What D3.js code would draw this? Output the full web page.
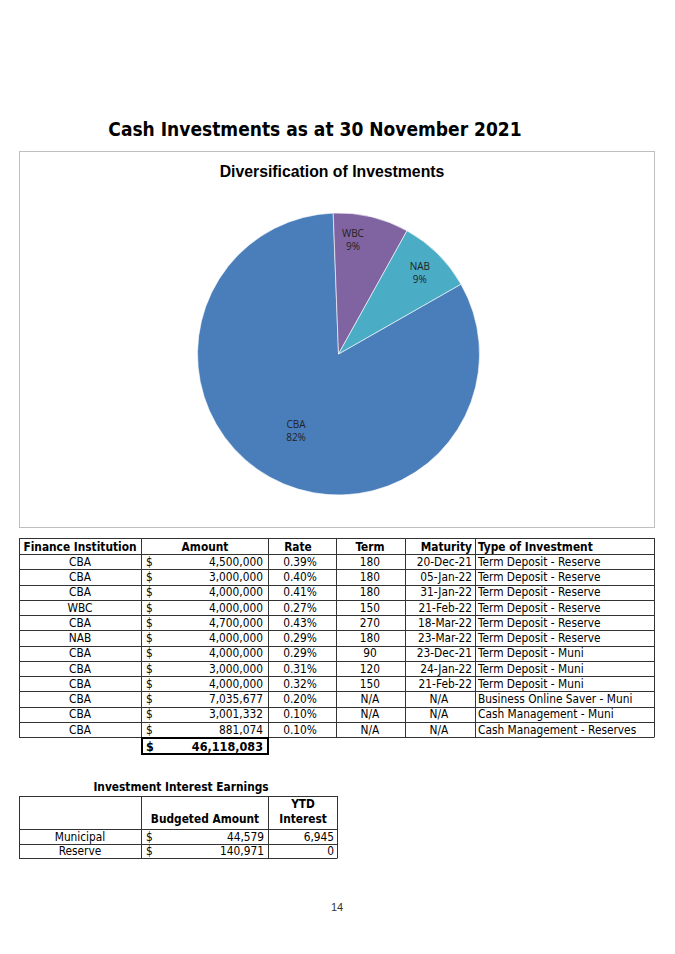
<!DOCTYPE html>
<html>
<head>
<meta charset="utf-8">
<script src="https://cdn.jsdelivr.net/npm/d3@7"></script>
<style>
  body { margin: 0; background: #fff; }
  svg text { font-family: "DejaVu Sans Condensed", "DejaVu Sans", sans-serif; }
</style>
</head>
<body>
<script>
// table data
var institutions = ["CBA","CBA","CBA","WBC","CBA","NAB","CBA","CBA","CBA","CBA","CBA","CBA"];
var amounts = [4500000,3000000,4000000,4000000,4700000,4000000,4000000,3000000,4000000,7035677,3001332,881074];
var rates = ["0.39%","0.40%","0.41%","0.27%","0.43%","0.29%","0.29%","0.31%","0.32%","0.20%","0.10%","0.10%"];
var terms = ["180","180","180","150","270","180","90","120","150","N/A","N/A","N/A"];
var maturities = ["20-Dec-21","05-Jan-22","31-Jan-22","21-Feb-22","18-Mar-22","23-Mar-22","23-Dec-21","24-Jan-22","21-Feb-22","N/A","N/A","N/A"];
var types = ["Term Deposit - Reserve","Term Deposit - Reserve","Term Deposit - Reserve","Term Deposit - Reserve",
             "Term Deposit - Reserve","Term Deposit - Reserve","Term Deposit - Muni","Term Deposit - Muni",
             "Term Deposit - Muni","Business Online Saver - Muni","Cash Management - Muni","Cash Management - Reserves"];
var headers = ["Finance Institution","Amount","Rate","Term","Maturity","Type of Investment"];

// pie data
var pieNames = ["CBA","WBC","NAB"];
var piePercents = ["82%","9%","9%"];
var pieColors = ["#4a7ebb","#8064a2","#4bacc6"];

// interest earnings table
var earnNames = ["Municipal","Reserve"];
var earnBudget = [44579, 140971];
var earnYtd = [6945, 0];

var fmt = d3.format(",");
var W = 675, H = 954;

var svg = d3.select("body").append("svg")
  .attr("width", W).attr("height", H);
svg.append("rect").attr("width", W).attr("height", H).attr("fill", "#fff");

// page title
svg.append("text")
  .attr("x", 315).attr("y", 136)
  .attr("text-anchor", "middle")
  .style("font-size", "19px").style("font-weight", "bold")
  .text("Cash Investments as at 30 November 2021");

// chart box
svg.append("rect")
  .attr("x", 19.5).attr("y", 151.5).attr("width", 635).attr("height", 376)
  .attr("fill", "#fff").attr("stroke", "#bfbfbf");

svg.append("text")
  .attr("x", 332).attr("y", 177)
  .attr("text-anchor", "middle")
  .style("font-family", "'Liberation Sans', sans-serif")
  .style("font-size", "15.8px").style("font-weight", "bold")
  .text("Diversification of Investments");

// sum amounts per institution for the slices
var totals = pieNames.map(function(n) {
  return d3.sum(amounts.filter(function(a, i) { return institutions[i] === n; }));
});

var start = 60.3 * Math.PI / 180;
var pie = d3.pie().sort(null).startAngle(start).endAngle(start + 2 * Math.PI);
var R = 141;
var arc = d3.arc().innerRadius(0).outerRadius(R);
var g = svg.append("g").attr("transform", "translate(338.5,354)");
var arcs = pie(totals);

g.selectAll("path")
  .data(arcs)
  .enter()
  .append("path")
  .attr("d", arc)
  .attr("fill", function(d, i) { return pieColors[i]; })
  .attr("stroke", "#fff")
  .attr("stroke-width", 0.6);

// label placement (fraction of radius, angle shift)
var labelPos = [[0.62, 0], [0.82, -0.11], [0.82, 0]];
var lab = g.selectAll("g.lab")
  .data(arcs)
  .enter()
  .append("g")
  .attr("class", "lab")
  .attr("transform", function(d, i) {
    var a = (d.startAngle + d.endAngle) / 2 + labelPos[i][1];
    var r = R * labelPos[i][0];
    return "translate(" + (r * Math.sin(a)) + "," + (-r * Math.cos(a)) + ")";
  });
lab.append("text")
  .attr("text-anchor", "middle").attr("y", -2)
  .style("font-family", "'Open Sans', sans-serif").style("font-size", "10px").attr("fill", "#222")
  .text(function(d, i) { return pieNames[i]; });
lab.append("text")
  .attr("text-anchor", "middle").attr("y", 11)
  .style("font-family", "'Open Sans', sans-serif").style("font-size", "10px").attr("fill", "#222")
  .text(function(d, i) { return piePercents[i]; });

// main table
var cols = [19, 141, 268, 336, 405, 475, 654];
var top0 = 538, headBottom = 554;
var rowY = d3.scaleLinear().domain([0, institutions.length]).range([headBottom, 737]);
var lineCol = "#333";
var tbl = svg.append("g").style("font-size", "11.8px");

// horizontal lines
var hl = [top0].concat(d3.range(institutions.length + 1).map(function(i) { return rowY(i); }));
tbl.selectAll("line.h")
  .data(hl)
  .enter()
  .append("line")
  .attr("x1", cols[0]).attr("x2", cols[6])
  .attr("y1", function(d) { return Math.round(d) + 0.5; })
  .attr("y2", function(d) { return Math.round(d) + 0.5; })
  .attr("stroke", lineCol);
tbl.selectAll("line.v")
  .data(cols)
  .enter()
  .append("line")
  .attr("x1", function(d) { return d + 0.5; }).attr("x2", function(d) { return d + 0.5; })
  .attr("y1", top0).attr("y2", Math.round(rowY(institutions.length)) + 0.5)
  .attr("stroke", lineCol);

// header
var headX = [80, 205, 298, 370, 472, 478];
var headAnchor = ["middle","middle","middle","middle","end","start"];
tbl.selectAll("text.head")
  .data(headers)
  .enter()
  .append("text")
  .attr("x", function(d, i) { return headX[i]; })
  .attr("y", 550.5)
  .attr("text-anchor", function(d, i) { return headAnchor[i]; })
  .style("font-weight", "bold")
  .text(function(d) { return d; });

// rows
var rowsG = tbl.selectAll("g.row")
  .data(institutions)
  .enter()
  .append("g")
  .attr("transform", function(d, i) { return "translate(0," + (rowY(i) + 11.8) + ")"; });
rowsG.append("text").attr("x", 80).attr("text-anchor", "middle").text(function(d) { return d; });
rowsG.append("text").attr("x", 146).text("$");
rowsG.append("text").attr("x", 263).attr("text-anchor", "end").text(function(d, i) { return fmt(amounts[i]); });
rowsG.append("text").attr("x", 300).attr("text-anchor", "middle").text(function(d, i) { return rates[i]; });
rowsG.append("text").attr("x", 370).attr("text-anchor", "middle").text(function(d, i) { return terms[i]; });
rowsG.append("text")
  .attr("x", function(d, i) { return maturities[i] === "N/A" ? 439 : 472; })
  .attr("text-anchor", function(d, i) { return maturities[i] === "N/A" ? "middle" : "end"; })
  .text(function(d, i) { return maturities[i]; });
rowsG.append("text").attr("x", 478).text(function(d, i) { return types[i]; });

// total box
var yb = Math.round(rowY(institutions.length));
tbl.append("rect")
  .attr("x", 142).attr("y", yb + 1).attr("width", 126).attr("height", 16)
  .attr("fill", "none").attr("stroke", "#000").attr("stroke-width", 2);
tbl.append("text").attr("x", 146).attr("y", yb + 13.5).style("font-weight", "bold").style("font-size", "12.5px").text("$");
tbl.append("text").attr("x", 263).attr("y", yb + 13.5).attr("text-anchor", "end")
  .style("font-weight", "bold").style("font-size", "12.5px")
  .text(fmt(d3.sum(amounts)));

// interest earnings table
var e = svg.append("g").style("font-size", "11.8px");
e.append("text").attr("x", 181).attr("y", 791).attr("text-anchor", "middle")
  .style("font-weight", "bold").text("Investment Interest Earnings");
var ecols = [19, 141, 268, 337];
var eTop = 796, eHead = 829;
var eRow = d3.scaleLinear().domain([0, earnNames.length]).range([eHead, 858]);
var ehl = [eTop].concat(d3.range(earnNames.length + 1).map(function(i) { return eRow(i); }));
e.selectAll("line.h")
  .data(ehl)
  .enter()
  .append("line")
  .attr("x1", ecols[0]).attr("x2", ecols[3])
  .attr("y1", function(d) { return Math.round(d) + 0.5; })
  .attr("y2", function(d) { return Math.round(d) + 0.5; })
  .attr("stroke", lineCol);
e.selectAll("line.v")
  .data(ecols)
  .enter()
  .append("line")
  .attr("x1", function(d) { return d + 0.5; }).attr("x2", function(d) { return d + 0.5; })
  .attr("y1", eTop).attr("y2", 858.5)
  .attr("stroke", lineCol);
e.append("text").attr("x", 205).attr("y", 823).attr("text-anchor", "middle")
  .style("font-weight", "bold").text("Budgeted Amount");
e.append("text").attr("x", 303).attr("y", 808).attr("text-anchor", "middle")
  .style("font-weight", "bold").text("YTD");
e.append("text").attr("x", 303).attr("y", 823).attr("text-anchor", "middle")
  .style("font-weight", "bold").text("Interest");
var er = e.selectAll("g.row")
  .data(earnNames)
  .enter()
  .append("g")
  .attr("transform", function(d, i) { return "translate(0," + (eRow(i) + 11.5) + ")"; });
er.append("text").attr("x", 80).attr("text-anchor", "middle").text(function(d) { return d; });
er.append("text").attr("x", 146).text("$");
er.append("text").attr("x", 264).attr("text-anchor", "end").text(function(d, i) { return fmt(earnBudget[i]); });
er.append("text").attr("x", 334).attr("text-anchor", "end").text(function(d, i) { return fmt(earnYtd[i]); });

// page number
svg.append("text").attr("x", 337).attr("y", 911).attr("text-anchor", "middle")
  .style("font-family", "'Liberation Sans', sans-serif").style("font-size", "11px").attr("fill", "#333")
  .text("14");
</script>
</body>
</html>
